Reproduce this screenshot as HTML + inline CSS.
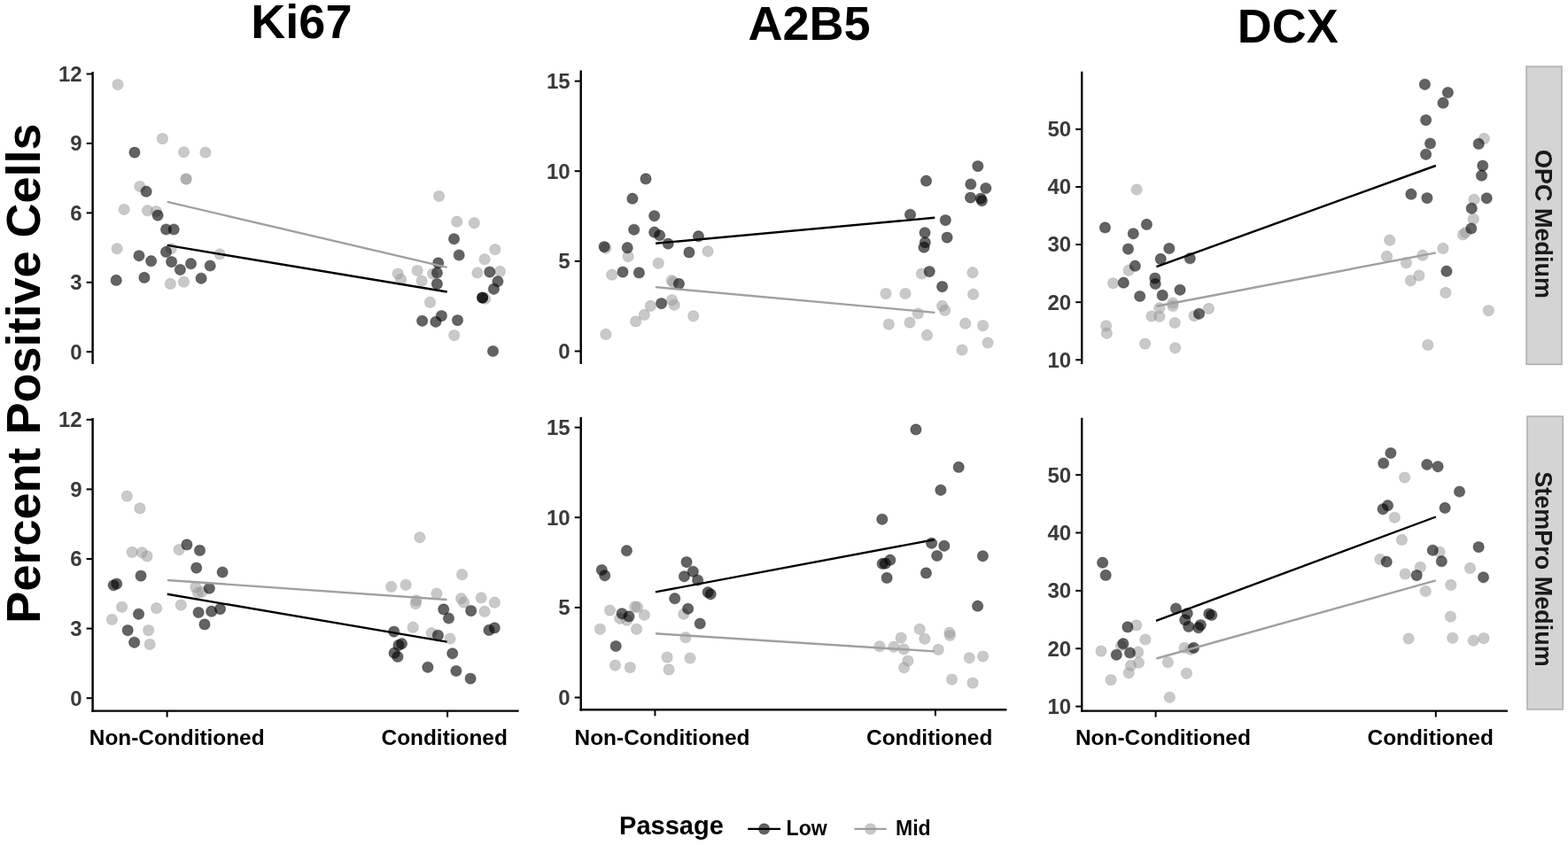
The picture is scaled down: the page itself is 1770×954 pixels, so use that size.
<!DOCTYPE html>
<html><head><meta charset="utf-8"><title>Percent Positive Cells</title>
<style>
html,body{margin:0;padding:0;background:#fff;}
body{width:1770px;height:954px;overflow:hidden;}
svg{display:block;filter:blur(0.45px);}
text{font-family:"Liberation Sans",Arial,Helvetica,sans-serif;font-weight:bold;}
.tk{fill:#3a3a3a;font-size:24px;}
.xl{fill:#000;font-size:24.4px;}
.ttl{fill:#000;font-size:54px;}
.st{fill:#1a1a1a;font-size:27px;}
.lg{fill:#000;font-size:23px;}
.dk{fill:#000;fill-opacity:0.61;stroke:#000;stroke-opacity:0.3;stroke-width:1.2;}
.lt{fill:#999;fill-opacity:0.53;stroke:#999;stroke-opacity:0.3;stroke-width:1.2;}
</style></head><body>
<svg width="1770" height="954" viewBox="0 0 1770 954">
<rect width="1770" height="954" fill="#fff"/>
<text class="ttl" x="340.4" y="43.2" text-anchor="middle">Ki67</text>
<text class="ttl" x="913.6" y="45.3" text-anchor="middle">A2B5</text>
<text class="ttl" x="1453.7" y="48.4" text-anchor="middle">DCX</text>
<text class="ttl" transform="translate(44.5,421.5) rotate(-90)" text-anchor="middle" style="font-size:54px">Percent Positive Cells</text>
<g>
<circle class="lt" cx="133" cy="95.5" r="6.1"/>
<circle class="lt" cx="183.4" cy="156.6" r="6.1"/>
<circle class="lt" cx="207.5" cy="171.8" r="6.1"/>
<circle class="lt" cx="231.9" cy="172.1" r="6.1"/>
<circle class="lt" cx="210.1" cy="202.1" r="6.1"/>
<circle class="lt" cx="210.1" cy="202.1" r="6.1"/>
<circle class="lt" cx="157.9" cy="210.5" r="6.1"/>
<circle class="lt" cx="140.1" cy="236.5" r="6.1"/>
<circle class="lt" cx="166.5" cy="237.7" r="6.1"/>
<circle class="lt" cx="176.3" cy="238.6" r="6.1"/>
<circle class="lt" cx="132.1" cy="280.8" r="6.1"/>
<circle class="lt" cx="193.2" cy="280.8" r="6.1"/>
<circle class="lt" cx="248.1" cy="287" r="6.1"/>
<circle class="lt" cx="192.3" cy="320.4" r="6.1"/>
<circle class="lt" cx="207.5" cy="318.2" r="6.1"/>
<circle class="lt" cx="495.6" cy="221.5" r="6.1"/>
<circle class="lt" cx="515.7" cy="250.2" r="6.1"/>
<circle class="lt" cx="535.3" cy="251.8" r="6.1"/>
<circle class="lt" cx="558.8" cy="281.6" r="6.1"/>
<circle class="lt" cx="547.1" cy="292.8" r="6.1"/>
<circle class="lt" cx="449.1" cy="309.1" r="6.1"/>
<circle class="lt" cx="452.6" cy="315.3" r="6.1"/>
<circle class="lt" cx="471.1" cy="305.5" r="6.1"/>
<circle class="lt" cx="488.6" cy="309.1" r="6.1"/>
<circle class="lt" cx="476.1" cy="317.1" r="6.1"/>
<circle class="lt" cx="538.9" cy="308" r="6.1"/>
<circle class="lt" cx="564.4" cy="306.4" r="6.1"/>
<circle class="lt" cx="547.6" cy="337.2" r="6.1"/>
<circle class="lt" cx="485.5" cy="341.2" r="6.1"/>
<circle class="lt" cx="512.7" cy="378.6" r="6.1"/>
<circle class="dk" cx="151.9" cy="172.1" r="6.1"/>
<circle class="dk" cx="165.1" cy="216.2" r="6.1"/>
<circle class="dk" cx="178.1" cy="243.1" r="6.1"/>
<circle class="dk" cx="187.5" cy="259" r="6.1"/>
<circle class="dk" cx="196.2" cy="259" r="6.1"/>
<circle class="dk" cx="187.5" cy="284.4" r="6.1"/>
<circle class="dk" cx="157" cy="288.8" r="6.1"/>
<circle class="dk" cx="170.6" cy="294.7" r="6.1"/>
<circle class="dk" cx="193.6" cy="295.6" r="6.1"/>
<circle class="dk" cx="215.5" cy="297.7" r="6.1"/>
<circle class="dk" cx="203.4" cy="304.5" r="6.1"/>
<circle class="dk" cx="237.2" cy="300" r="6.1"/>
<circle class="dk" cx="131.2" cy="316.4" r="6.1"/>
<circle class="dk" cx="162.9" cy="313.4" r="6.1"/>
<circle class="dk" cx="227.1" cy="314.3" r="6.1"/>
<circle class="dk" cx="512.5" cy="269.8" r="6.1"/>
<circle class="dk" cx="518.2" cy="288" r="6.1"/>
<circle class="dk" cx="494.7" cy="296.9" r="6.1"/>
<circle class="dk" cx="493.4" cy="308" r="6.1"/>
<circle class="dk" cx="493.4" cy="320.6" r="6.1"/>
<circle class="dk" cx="552.8" cy="307.1" r="6.1"/>
<circle class="dk" cx="561.9" cy="317.8" r="6.1"/>
<circle class="dk" cx="557.4" cy="326.3" r="6.1"/>
<circle class="dk" cx="544.6" cy="336.1" r="6.1"/>
<circle class="dk" cx="544.6" cy="336.1" r="6.1"/>
<circle class="dk" cx="476.6" cy="362.3" r="6.1"/>
<circle class="dk" cx="491.9" cy="363.3" r="6.1"/>
<circle class="dk" cx="498.4" cy="356.6" r="6.1"/>
<circle class="dk" cx="516.5" cy="361.6" r="6.1"/>
<circle class="dk" cx="556.5" cy="396.5" r="6.1"/>
<line x1="188.8" y1="227.9" x2="504.7" y2="301.9" stroke="#a0a0a0" stroke-width="2.4"/>
<line x1="188.8" y1="276.9" x2="504.7" y2="329.5" stroke="#000" stroke-width="2.4"/>
<line x1="104.6" y1="81" x2="104.6" y2="411" stroke="#000" stroke-width="2.4"/>
<line x1="97.6" y1="397.2" x2="104.6" y2="397.2" stroke="#000" stroke-width="2.0"/>
<text class="tk" x="92.6" y="405.5" text-anchor="end">0</text>
<line x1="97.6" y1="318.8" x2="104.6" y2="318.8" stroke="#000" stroke-width="2.0"/>
<text class="tk" x="92.6" y="327.1" text-anchor="end">3</text>
<line x1="97.6" y1="240.4" x2="104.6" y2="240.4" stroke="#000" stroke-width="2.0"/>
<text class="tk" x="92.6" y="248.7" text-anchor="end">6</text>
<line x1="97.6" y1="161.9" x2="104.6" y2="161.9" stroke="#000" stroke-width="2.0"/>
<text class="tk" x="92.6" y="170.2" text-anchor="end">9</text>
<line x1="97.6" y1="83.5" x2="104.6" y2="83.5" stroke="#000" stroke-width="2.0"/>
<text class="tk" x="92.6" y="91.8" text-anchor="end">12</text>
</g>
<g>
<circle class="lt" cx="143.3" cy="560.1" r="6.1"/>
<circle class="lt" cx="157.9" cy="573.9" r="6.1"/>
<circle class="lt" cx="149.2" cy="623.4" r="6.1"/>
<circle class="lt" cx="160.2" cy="623.8" r="6.1"/>
<circle class="lt" cx="166" cy="627.9" r="6.1"/>
<circle class="lt" cx="202.1" cy="620.6" r="6.1"/>
<circle class="lt" cx="220.8" cy="663" r="6.1"/>
<circle class="lt" cx="223.5" cy="669.2" r="6.1"/>
<circle class="lt" cx="228" cy="668.3" r="6.1"/>
<circle class="lt" cx="137.6" cy="685.3" r="6.1"/>
<circle class="lt" cx="176.6" cy="686.7" r="6.1"/>
<circle class="lt" cx="204.3" cy="683.1" r="6.1"/>
<circle class="lt" cx="126.4" cy="699.5" r="6.1"/>
<circle class="lt" cx="167.6" cy="711.6" r="6.1"/>
<circle class="lt" cx="169.1" cy="727.5" r="6.1"/>
<circle class="lt" cx="473.9" cy="606.8" r="6.1"/>
<circle class="lt" cx="521.6" cy="648.7" r="6.1"/>
<circle class="lt" cx="441.6" cy="662.4" r="6.1"/>
<circle class="lt" cx="458.1" cy="660.3" r="6.1"/>
<circle class="lt" cx="492.9" cy="670.1" r="6.1"/>
<circle class="lt" cx="469.9" cy="677.9" r="6.1"/>
<circle class="lt" cx="469.2" cy="681.6" r="6.1"/>
<circle class="lt" cx="520.6" cy="675.8" r="6.1"/>
<circle class="lt" cx="523.7" cy="680.2" r="6.1"/>
<circle class="lt" cx="543.2" cy="674.9" r="6.1"/>
<circle class="lt" cx="558.3" cy="680.2" r="6.1"/>
<circle class="lt" cx="547" cy="690.4" r="6.1"/>
<circle class="lt" cx="466.1" cy="708.2" r="6.1"/>
<circle class="lt" cx="487.1" cy="714.7" r="6.1"/>
<circle class="lt" cx="508" cy="721" r="6.1"/>
<circle class="dk" cx="210.9" cy="614.9" r="6.1"/>
<circle class="dk" cx="225.5" cy="621.4" r="6.1"/>
<circle class="dk" cx="221.7" cy="641.1" r="6.1"/>
<circle class="dk" cx="251.1" cy="646" r="6.1"/>
<circle class="dk" cx="159" cy="650.1" r="6.1"/>
<circle class="dk" cx="128.2" cy="660.8" r="6.1"/>
<circle class="dk" cx="131.7" cy="659.1" r="6.1"/>
<circle class="dk" cx="236.3" cy="664.2" r="6.1"/>
<circle class="dk" cx="156.5" cy="693.3" r="6.1"/>
<circle class="dk" cx="224.1" cy="691.5" r="6.1"/>
<circle class="dk" cx="238.7" cy="690.2" r="6.1"/>
<circle class="dk" cx="248.5" cy="687.6" r="6.1"/>
<circle class="dk" cx="231" cy="704.9" r="6.1"/>
<circle class="dk" cx="144.2" cy="711.6" r="6.1"/>
<circle class="dk" cx="151.6" cy="725.3" r="6.1"/>
<circle class="dk" cx="500.7" cy="687.9" r="6.1"/>
<circle class="dk" cx="506.5" cy="698" r="6.1"/>
<circle class="dk" cx="531.7" cy="689.6" r="6.1"/>
<circle class="dk" cx="444.7" cy="713.1" r="6.1"/>
<circle class="dk" cx="494.4" cy="717.3" r="6.1"/>
<circle class="dk" cx="552" cy="711.4" r="6.1"/>
<circle class="dk" cx="558.3" cy="708.9" r="6.1"/>
<circle class="dk" cx="453.5" cy="726.7" r="6.1"/>
<circle class="dk" cx="450" cy="728.4" r="6.1"/>
<circle class="dk" cx="445.1" cy="737.2" r="6.1"/>
<circle class="dk" cx="448.9" cy="741.4" r="6.1"/>
<circle class="dk" cx="510.7" cy="737.8" r="6.1"/>
<circle class="dk" cx="482.9" cy="753.3" r="6.1"/>
<circle class="dk" cx="514.9" cy="757.5" r="6.1"/>
<circle class="dk" cx="531.1" cy="766.1" r="6.1"/>
<line x1="188.8" y1="655" x2="504.5" y2="677" stroke="#a0a0a0" stroke-width="2.4"/>
<line x1="188.8" y1="670.8" x2="504.5" y2="724.6" stroke="#000" stroke-width="2.4"/>
<line x1="104.6" y1="472" x2="104.6" y2="803.8" stroke="#000" stroke-width="2.4"/>
<line x1="103.4" y1="802.6" x2="585.6" y2="802.6" stroke="#000" stroke-width="2.4"/>
<line x1="188.6" y1="802.6" x2="188.6" y2="809.6" stroke="#000" stroke-width="2.0"/>
<text class="xl" x="199.7" y="841" text-anchor="middle">Non-Conditioned</text>
<line x1="505.1" y1="802.6" x2="505.1" y2="809.6" stroke="#000" stroke-width="2.0"/>
<text class="xl" x="501.7" y="841" text-anchor="middle">Conditioned</text>
<line x1="97.6" y1="788.2" x2="104.6" y2="788.2" stroke="#000" stroke-width="2.0"/>
<text class="tk" x="92.6" y="796.5" text-anchor="end">0</text>
<line x1="97.6" y1="709.6" x2="104.6" y2="709.6" stroke="#000" stroke-width="2.0"/>
<text class="tk" x="92.6" y="717.9" text-anchor="end">3</text>
<line x1="97.6" y1="631" x2="104.6" y2="631" stroke="#000" stroke-width="2.0"/>
<text class="tk" x="92.6" y="639.3" text-anchor="end">6</text>
<line x1="97.6" y1="552.4" x2="104.6" y2="552.4" stroke="#000" stroke-width="2.0"/>
<text class="tk" x="92.6" y="560.7" text-anchor="end">9</text>
<line x1="97.6" y1="473.8" x2="104.6" y2="473.8" stroke="#000" stroke-width="2.0"/>
<text class="tk" x="92.6" y="482.1" text-anchor="end">12</text>
</g>
<g>
<circle class="lt" cx="683.7" cy="280.3" r="6.1"/>
<circle class="lt" cx="799" cy="283.8" r="6.1"/>
<circle class="lt" cx="709.1" cy="289.5" r="6.1"/>
<circle class="lt" cx="743.2" cy="297.3" r="6.1"/>
<circle class="lt" cx="690.7" cy="310.2" r="6.1"/>
<circle class="lt" cx="758.2" cy="316.7" r="6.1"/>
<circle class="lt" cx="760.2" cy="318.6" r="6.1"/>
<circle class="lt" cx="734.3" cy="345.4" r="6.1"/>
<circle class="lt" cx="758.5" cy="338.8" r="6.1"/>
<circle class="lt" cx="761.2" cy="344.3" r="6.1"/>
<circle class="lt" cx="727.3" cy="355.4" r="6.1"/>
<circle class="lt" cx="717.6" cy="362.9" r="6.1"/>
<circle class="lt" cx="782.7" cy="356.8" r="6.1"/>
<circle class="lt" cx="683.9" cy="377.4" r="6.1"/>
<circle class="lt" cx="1040.4" cy="309" r="6.1"/>
<circle class="lt" cx="1097.9" cy="307.7" r="6.1"/>
<circle class="lt" cx="999.9" cy="331.5" r="6.1"/>
<circle class="lt" cx="1022" cy="331.5" r="6.1"/>
<circle class="lt" cx="1098.6" cy="332.2" r="6.1"/>
<circle class="lt" cx="1063.6" cy="345.4" r="6.1"/>
<circle class="lt" cx="1066.6" cy="350.4" r="6.1"/>
<circle class="lt" cx="1036.3" cy="354" r="6.1"/>
<circle class="lt" cx="1003.3" cy="366.1" r="6.1"/>
<circle class="lt" cx="1027" cy="364.1" r="6.1"/>
<circle class="lt" cx="1089.7" cy="365.2" r="6.1"/>
<circle class="lt" cx="1109.6" cy="367.6" r="6.1"/>
<circle class="lt" cx="1046.5" cy="378.4" r="6.1"/>
<circle class="lt" cx="1115.1" cy="387" r="6.1"/>
<circle class="lt" cx="1086" cy="395.1" r="6.1"/>
<circle class="dk" cx="729" cy="201.9" r="6.1"/>
<circle class="dk" cx="713.9" cy="224.2" r="6.1"/>
<circle class="dk" cx="738.6" cy="243.8" r="6.1"/>
<circle class="dk" cx="715.7" cy="259.3" r="6.1"/>
<circle class="dk" cx="738.7" cy="262.2" r="6.1"/>
<circle class="dk" cx="744.6" cy="265.7" r="6.1"/>
<circle class="dk" cx="754.2" cy="275.1" r="6.1"/>
<circle class="dk" cx="788.4" cy="266.7" r="6.1"/>
<circle class="dk" cx="682.1" cy="278.6" r="6.1"/>
<circle class="dk" cx="708.2" cy="279.7" r="6.1"/>
<circle class="dk" cx="777.9" cy="284.9" r="6.1"/>
<circle class="dk" cx="703" cy="307.1" r="6.1"/>
<circle class="dk" cx="721.4" cy="307.9" r="6.1"/>
<circle class="dk" cx="766.4" cy="320.4" r="6.1"/>
<circle class="dk" cx="746.6" cy="342.6" r="6.1"/>
<circle class="dk" cx="1103.8" cy="187.6" r="6.1"/>
<circle class="dk" cx="1045.5" cy="204.2" r="6.1"/>
<circle class="dk" cx="1095.8" cy="208" r="6.1"/>
<circle class="dk" cx="1112.8" cy="212.5" r="6.1"/>
<circle class="dk" cx="1095.5" cy="223.1" r="6.1"/>
<circle class="dk" cx="1107.2" cy="224.1" r="6.1"/>
<circle class="dk" cx="1108.4" cy="226.6" r="6.1"/>
<circle class="dk" cx="1027.5" cy="242.3" r="6.1"/>
<circle class="dk" cx="1067.3" cy="248.6" r="6.1"/>
<circle class="dk" cx="1044" cy="262.8" r="6.1"/>
<circle class="dk" cx="1044.3" cy="273.8" r="6.1"/>
<circle class="dk" cx="1043" cy="279.2" r="6.1"/>
<circle class="dk" cx="1069.1" cy="268.1" r="6.1"/>
<circle class="dk" cx="1049.2" cy="306.6" r="6.1"/>
<circle class="dk" cx="1063.6" cy="323.6" r="6.1"/>
<line x1="739.9" y1="324.1" x2="1055.4" y2="352.9" stroke="#a0a0a0" stroke-width="2.4"/>
<line x1="740.1" y1="274.8" x2="1055.2" y2="245.8" stroke="#000" stroke-width="2.4"/>
<line x1="655.7" y1="79.6" x2="655.7" y2="411" stroke="#000" stroke-width="2.4"/>
<line x1="648.7" y1="396.5" x2="655.7" y2="396.5" stroke="#000" stroke-width="2.0"/>
<text class="tk" x="643.7" y="404.8" text-anchor="end">0</text>
<line x1="648.7" y1="294.9" x2="655.7" y2="294.9" stroke="#000" stroke-width="2.0"/>
<text class="tk" x="643.7" y="303.2" text-anchor="end">5</text>
<line x1="648.7" y1="193.2" x2="655.7" y2="193.2" stroke="#000" stroke-width="2.0"/>
<text class="tk" x="643.7" y="201.5" text-anchor="end">10</text>
<line x1="648.7" y1="91.6" x2="655.7" y2="91.6" stroke="#000" stroke-width="2.0"/>
<text class="tk" x="643.7" y="99.9" text-anchor="end">15</text>
</g>
<g>
<circle class="lt" cx="771.8" cy="693.3" r="6.1"/>
<circle class="lt" cx="688.5" cy="689.1" r="6.1"/>
<circle class="lt" cx="716.8" cy="684.9" r="6.1"/>
<circle class="lt" cx="719.4" cy="685.4" r="6.1"/>
<circle class="lt" cx="727.3" cy="694.3" r="6.1"/>
<circle class="lt" cx="699.8" cy="698.3" r="6.1"/>
<circle class="lt" cx="707.6" cy="700.2" r="6.1"/>
<circle class="lt" cx="677.4" cy="710.3" r="6.1"/>
<circle class="lt" cx="718.5" cy="710.3" r="6.1"/>
<circle class="lt" cx="773.9" cy="719.7" r="6.1"/>
<circle class="lt" cx="753.1" cy="742.1" r="6.1"/>
<circle class="lt" cx="779" cy="743" r="6.1"/>
<circle class="lt" cx="694.4" cy="751.1" r="6.1"/>
<circle class="lt" cx="711.3" cy="753.6" r="6.1"/>
<circle class="lt" cx="755" cy="755.9" r="6.1"/>
<circle class="lt" cx="1038.1" cy="710.3" r="6.1"/>
<circle class="lt" cx="1043.8" cy="721.3" r="6.1"/>
<circle class="lt" cx="1017.1" cy="720.1" r="6.1"/>
<circle class="lt" cx="1071.9" cy="714.2" r="6.1"/>
<circle class="lt" cx="1072.4" cy="717.5" r="6.1"/>
<circle class="lt" cx="992.9" cy="729.8" r="6.1"/>
<circle class="lt" cx="1009" cy="730.2" r="6.1"/>
<circle class="lt" cx="1020.3" cy="733" r="6.1"/>
<circle class="lt" cx="1059.2" cy="733.4" r="6.1"/>
<circle class="lt" cx="1024.9" cy="746.1" r="6.1"/>
<circle class="lt" cx="1020.5" cy="753.8" r="6.1"/>
<circle class="lt" cx="1094.3" cy="742.8" r="6.1"/>
<circle class="lt" cx="1109.6" cy="741.1" r="6.1"/>
<circle class="lt" cx="1074.5" cy="767.1" r="6.1"/>
<circle class="lt" cx="1098" cy="771.1" r="6.1"/>
<circle class="dk" cx="707.4" cy="621.7" r="6.1"/>
<circle class="dk" cx="679.3" cy="643.5" r="6.1"/>
<circle class="dk" cx="682.7" cy="649.8" r="6.1"/>
<circle class="dk" cx="775" cy="634.6" r="6.1"/>
<circle class="dk" cx="782.3" cy="645.3" r="6.1"/>
<circle class="dk" cx="772.4" cy="650.8" r="6.1"/>
<circle class="dk" cx="787.6" cy="655" r="6.1"/>
<circle class="dk" cx="799.1" cy="668.7" r="6.1"/>
<circle class="dk" cx="802.2" cy="670.8" r="6.1"/>
<circle class="dk" cx="761.7" cy="675.7" r="6.1"/>
<circle class="dk" cx="776.6" cy="687.3" r="6.1"/>
<circle class="dk" cx="702.1" cy="692.8" r="6.1"/>
<circle class="dk" cx="710" cy="695.9" r="6.1"/>
<circle class="dk" cx="790.2" cy="704" r="6.1"/>
<circle class="dk" cx="695.2" cy="729.5" r="6.1"/>
<circle class="dk" cx="1033.9" cy="484.9" r="6.1"/>
<circle class="dk" cx="1082.2" cy="527.4" r="6.1"/>
<circle class="dk" cx="1061.9" cy="553.3" r="6.1"/>
<circle class="dk" cx="995.8" cy="586.3" r="6.1"/>
<circle class="dk" cx="1051.6" cy="613.3" r="6.1"/>
<circle class="dk" cx="1065.8" cy="616.3" r="6.1"/>
<circle class="dk" cx="1057.7" cy="627.5" r="6.1"/>
<circle class="dk" cx="1109.4" cy="627.8" r="6.1"/>
<circle class="dk" cx="1004.8" cy="632.2" r="6.1"/>
<circle class="dk" cx="996.2" cy="636.4" r="6.1"/>
<circle class="dk" cx="999.3" cy="636.2" r="6.1"/>
<circle class="dk" cx="1001.1" cy="652.4" r="6.1"/>
<circle class="dk" cx="1045.4" cy="646.9" r="6.1"/>
<circle class="dk" cx="1103.6" cy="684.2" r="6.1"/>
<line x1="740" y1="715.3" x2="1054.8" y2="735.4" stroke="#a0a0a0" stroke-width="2.4"/>
<line x1="739.9" y1="668.4" x2="1054.8" y2="609.2" stroke="#000" stroke-width="2.4"/>
<line x1="655.7" y1="471" x2="655.7" y2="802.5" stroke="#000" stroke-width="2.4"/>
<line x1="654.5" y1="801.3" x2="1136.4" y2="801.3" stroke="#000" stroke-width="2.4"/>
<line x1="739.4" y1="801.3" x2="739.4" y2="808.3" stroke="#000" stroke-width="2.0"/>
<text class="xl" x="747.5" y="841" text-anchor="middle">Non-Conditioned</text>
<line x1="1055.9" y1="801.3" x2="1055.9" y2="808.3" stroke="#000" stroke-width="2.0"/>
<text class="xl" x="1049.2" y="841" text-anchor="middle">Conditioned</text>
<line x1="648.7" y1="787.5" x2="655.7" y2="787.5" stroke="#000" stroke-width="2.0"/>
<text class="tk" x="643.7" y="795.8" text-anchor="end">0</text>
<line x1="648.7" y1="685.9" x2="655.7" y2="685.9" stroke="#000" stroke-width="2.0"/>
<text class="tk" x="643.7" y="694.1" text-anchor="end">5</text>
<line x1="648.7" y1="584.2" x2="655.7" y2="584.2" stroke="#000" stroke-width="2.0"/>
<text class="tk" x="643.7" y="592.5" text-anchor="end">10</text>
<line x1="648.7" y1="482.6" x2="655.7" y2="482.6" stroke="#000" stroke-width="2.0"/>
<text class="tk" x="643.7" y="490.9" text-anchor="end">15</text>
</g>
<g>
<rect x="1723" y="75.1" width="40" height="336.3" fill="#d4d4d4" stroke="#a8a8a8" stroke-width="1.4"/>
<text class="st" transform="translate(1733.3,252.9) rotate(90)" text-anchor="middle">OPC Medium</text>
<circle class="lt" cx="1283.1" cy="214" r="6.1"/>
<circle class="lt" cx="1274.2" cy="305.2" r="6.1"/>
<circle class="lt" cx="1256.5" cy="319.8" r="6.1"/>
<circle class="lt" cx="1323.9" cy="342" r="6.1"/>
<circle class="lt" cx="1323.9" cy="345.4" r="6.1"/>
<circle class="lt" cx="1308.8" cy="347.7" r="6.1"/>
<circle class="lt" cx="1299.9" cy="357" r="6.1"/>
<circle class="lt" cx="1308.8" cy="357.3" r="6.1"/>
<circle class="lt" cx="1326.2" cy="364.5" r="6.1"/>
<circle class="lt" cx="1348" cy="356.6" r="6.1"/>
<circle class="lt" cx="1364.4" cy="348.4" r="6.1"/>
<circle class="lt" cx="1248.6" cy="367.9" r="6.1"/>
<circle class="lt" cx="1249.3" cy="376.3" r="6.1"/>
<circle class="lt" cx="1292.6" cy="388.1" r="6.1"/>
<circle class="lt" cx="1326.6" cy="392.8" r="6.1"/>
<circle class="lt" cx="1675.3" cy="156.4" r="6.1"/>
<circle class="lt" cx="1664" cy="225.3" r="6.1"/>
<circle class="lt" cx="1663.3" cy="247.3" r="6.1"/>
<circle class="lt" cx="1651.4" cy="264.9" r="6.1"/>
<circle class="lt" cx="1654.5" cy="262.4" r="6.1"/>
<circle class="lt" cx="1568.7" cy="271.2" r="6.1"/>
<circle class="lt" cx="1628.9" cy="280.4" r="6.1"/>
<circle class="lt" cx="1565.5" cy="289.4" r="6.1"/>
<circle class="lt" cx="1605.9" cy="288.2" r="6.1"/>
<circle class="lt" cx="1587.4" cy="296.7" r="6.1"/>
<circle class="lt" cx="1601.9" cy="311.1" r="6.1"/>
<circle class="lt" cx="1592.4" cy="316.8" r="6.1"/>
<circle class="lt" cx="1631.9" cy="330.4" r="6.1"/>
<circle class="lt" cx="1680.3" cy="350.6" r="6.1"/>
<circle class="lt" cx="1611.8" cy="389.4" r="6.1"/>
<circle class="dk" cx="1247.4" cy="256.9" r="6.1"/>
<circle class="dk" cx="1294.4" cy="253.4" r="6.1"/>
<circle class="dk" cx="1279.3" cy="263.8" r="6.1"/>
<circle class="dk" cx="1273.5" cy="281.1" r="6.1"/>
<circle class="dk" cx="1319.8" cy="280.5" r="6.1"/>
<circle class="dk" cx="1310.2" cy="292.4" r="6.1"/>
<circle class="dk" cx="1343.3" cy="291.7" r="6.1"/>
<circle class="dk" cx="1281.3" cy="300.2" r="6.1"/>
<circle class="dk" cx="1268.3" cy="319.2" r="6.1"/>
<circle class="dk" cx="1303.8" cy="314.1" r="6.1"/>
<circle class="dk" cx="1304.2" cy="320.5" r="6.1"/>
<circle class="dk" cx="1332" cy="327.3" r="6.1"/>
<circle class="dk" cx="1286.7" cy="334.5" r="6.1"/>
<circle class="dk" cx="1312.2" cy="333.4" r="6.1"/>
<circle class="dk" cx="1353.5" cy="354.3" r="6.1"/>
<circle class="dk" cx="1608.4" cy="95.3" r="6.1"/>
<circle class="dk" cx="1634.4" cy="104.5" r="6.1"/>
<circle class="dk" cx="1629" cy="116.2" r="6.1"/>
<circle class="dk" cx="1609.6" cy="135.6" r="6.1"/>
<circle class="dk" cx="1614.5" cy="162" r="6.1"/>
<circle class="dk" cx="1609.6" cy="174.3" r="6.1"/>
<circle class="dk" cx="1669.2" cy="162.4" r="6.1"/>
<circle class="dk" cx="1673.7" cy="187.1" r="6.1"/>
<circle class="dk" cx="1672.5" cy="198.2" r="6.1"/>
<circle class="dk" cx="1592.9" cy="219.2" r="6.1"/>
<circle class="dk" cx="1610.9" cy="223.6" r="6.1"/>
<circle class="dk" cx="1678.2" cy="223.8" r="6.1"/>
<circle class="dk" cx="1661.2" cy="235.3" r="6.1"/>
<circle class="dk" cx="1660.8" cy="258" r="6.1"/>
<circle class="dk" cx="1632.9" cy="306.2" r="6.1"/>
<line x1="1305.4" y1="345.8" x2="1620.8" y2="285.4" stroke="#a0a0a0" stroke-width="2.4"/>
<line x1="1305.4" y1="301.1" x2="1620.8" y2="187" stroke="#000" stroke-width="2.4"/>
<line x1="1221.2" y1="80.7" x2="1221.2" y2="411" stroke="#000" stroke-width="2.4"/>
<line x1="1214.2" y1="406.3" x2="1221.2" y2="406.3" stroke="#000" stroke-width="2.0"/>
<text class="tk" x="1209.2" y="414.6" text-anchor="end">10</text>
<line x1="1214.2" y1="341.2" x2="1221.2" y2="341.2" stroke="#000" stroke-width="2.0"/>
<text class="tk" x="1209.2" y="349.5" text-anchor="end">20</text>
<line x1="1214.2" y1="276.1" x2="1221.2" y2="276.1" stroke="#000" stroke-width="2.0"/>
<text class="tk" x="1209.2" y="284.4" text-anchor="end">30</text>
<line x1="1214.2" y1="211" x2="1221.2" y2="211" stroke="#000" stroke-width="2.0"/>
<text class="tk" x="1209.2" y="219.3" text-anchor="end">40</text>
<line x1="1214.2" y1="145.9" x2="1221.2" y2="145.9" stroke="#000" stroke-width="2.0"/>
<text class="tk" x="1209.2" y="154.2" text-anchor="end">50</text>
</g>
<g>
<rect x="1724" y="470" width="40.2" height="331" fill="#d4d4d4" stroke="#a8a8a8" stroke-width="1.4"/>
<text class="st" transform="translate(1733.3,642.5) rotate(90)" text-anchor="middle">StemPro Medium</text>
<circle class="lt" cx="1282.7" cy="705.9" r="6.1"/>
<circle class="lt" cx="1292.9" cy="722" r="6.1"/>
<circle class="lt" cx="1265.5" cy="728.8" r="6.1"/>
<circle class="lt" cx="1243" cy="735.1" r="6.1"/>
<circle class="lt" cx="1284.7" cy="736.2" r="6.1"/>
<circle class="lt" cx="1285.4" cy="748.2" r="6.1"/>
<circle class="lt" cx="1276.5" cy="751.4" r="6.1"/>
<circle class="lt" cx="1274.2" cy="759.8" r="6.1"/>
<circle class="lt" cx="1254" cy="767.6" r="6.1"/>
<circle class="lt" cx="1318.4" cy="747.7" r="6.1"/>
<circle class="lt" cx="1337" cy="731.4" r="6.1"/>
<circle class="lt" cx="1344.1" cy="733.3" r="6.1"/>
<circle class="lt" cx="1339.4" cy="760.3" r="6.1"/>
<circle class="lt" cx="1320.3" cy="787.3" r="6.1"/>
<circle class="lt" cx="1585.6" cy="539.1" r="6.1"/>
<circle class="lt" cx="1574.3" cy="584.3" r="6.1"/>
<circle class="lt" cx="1582.4" cy="609.4" r="6.1"/>
<circle class="lt" cx="1625.1" cy="623.2" r="6.1"/>
<circle class="lt" cx="1557.9" cy="631.5" r="6.1"/>
<circle class="lt" cx="1603.3" cy="640.3" r="6.1"/>
<circle class="lt" cx="1659.5" cy="641.4" r="6.1"/>
<circle class="lt" cx="1586.2" cy="648" r="6.1"/>
<circle class="lt" cx="1637.8" cy="660.4" r="6.1"/>
<circle class="lt" cx="1609.2" cy="667.5" r="6.1"/>
<circle class="lt" cx="1637.4" cy="696.1" r="6.1"/>
<circle class="lt" cx="1590.1" cy="721" r="6.1"/>
<circle class="lt" cx="1639.7" cy="720.3" r="6.1"/>
<circle class="lt" cx="1663.2" cy="723.2" r="6.1"/>
<circle class="lt" cx="1674.9" cy="720.6" r="6.1"/>
<circle class="dk" cx="1244.6" cy="635.2" r="6.1"/>
<circle class="dk" cx="1248.2" cy="649.4" r="6.1"/>
<circle class="dk" cx="1327.4" cy="687" r="6.1"/>
<circle class="dk" cx="1340.2" cy="692.6" r="6.1"/>
<circle class="dk" cx="1337.7" cy="699.9" r="6.1"/>
<circle class="dk" cx="1341.7" cy="707.5" r="6.1"/>
<circle class="dk" cx="1364.8" cy="693" r="6.1"/>
<circle class="dk" cx="1367.7" cy="694.5" r="6.1"/>
<circle class="dk" cx="1355.3" cy="705.6" r="6.1"/>
<circle class="dk" cx="1352.8" cy="708.7" r="6.1"/>
<circle class="dk" cx="1272.9" cy="707.9" r="6.1"/>
<circle class="dk" cx="1267.9" cy="726.7" r="6.1"/>
<circle class="dk" cx="1260.3" cy="739.3" r="6.1"/>
<circle class="dk" cx="1275.5" cy="737" r="6.1"/>
<circle class="dk" cx="1347.5" cy="731.4" r="6.1"/>
<circle class="dk" cx="1569.9" cy="511.5" r="6.1"/>
<circle class="dk" cx="1561.7" cy="523" r="6.1"/>
<circle class="dk" cx="1610.8" cy="524.5" r="6.1"/>
<circle class="dk" cx="1623.1" cy="526.8" r="6.1"/>
<circle class="dk" cx="1647.5" cy="555" r="6.1"/>
<circle class="dk" cx="1566.5" cy="570.7" r="6.1"/>
<circle class="dk" cx="1561.1" cy="574.8" r="6.1"/>
<circle class="dk" cx="1631.1" cy="573.4" r="6.1"/>
<circle class="dk" cx="1617.3" cy="621.3" r="6.1"/>
<circle class="dk" cx="1669.1" cy="617.6" r="6.1"/>
<circle class="dk" cx="1565.2" cy="634.2" r="6.1"/>
<circle class="dk" cx="1627.3" cy="633.7" r="6.1"/>
<circle class="dk" cx="1599.2" cy="649.6" r="6.1"/>
<circle class="dk" cx="1674.5" cy="651.8" r="6.1"/>
<line x1="1305.3" y1="743.5" x2="1620.7" y2="655.3" stroke="#a0a0a0" stroke-width="2.4"/>
<line x1="1305" y1="700.8" x2="1620.9" y2="583.5" stroke="#000" stroke-width="2.4"/>
<line x1="1221.2" y1="471.8" x2="1221.2" y2="803.8" stroke="#000" stroke-width="2.4"/>
<line x1="1220" y1="802.6" x2="1701.9" y2="802.6" stroke="#000" stroke-width="2.4"/>
<line x1="1304.6" y1="802.6" x2="1304.6" y2="809.6" stroke="#000" stroke-width="2.0"/>
<text class="xl" x="1312.9" y="840.5" text-anchor="middle">Non-Conditioned</text>
<line x1="1620.8" y1="802.6" x2="1620.8" y2="809.6" stroke="#000" stroke-width="2.0"/>
<text class="xl" x="1614.7" y="840.5" text-anchor="middle">Conditioned</text>
<line x1="1214.2" y1="797.6" x2="1221.2" y2="797.6" stroke="#000" stroke-width="2.0"/>
<text class="tk" x="1209.2" y="805.9" text-anchor="end">10</text>
<line x1="1214.2" y1="732.2" x2="1221.2" y2="732.2" stroke="#000" stroke-width="2.0"/>
<text class="tk" x="1209.2" y="740.5" text-anchor="end">20</text>
<line x1="1214.2" y1="666.9" x2="1221.2" y2="666.9" stroke="#000" stroke-width="2.0"/>
<text class="tk" x="1209.2" y="675.2" text-anchor="end">30</text>
<line x1="1214.2" y1="601.5" x2="1221.2" y2="601.5" stroke="#000" stroke-width="2.0"/>
<text class="tk" x="1209.2" y="609.8" text-anchor="end">40</text>
<line x1="1214.2" y1="536.2" x2="1221.2" y2="536.2" stroke="#000" stroke-width="2.0"/>
<text class="tk" x="1209.2" y="544.5" text-anchor="end">50</text>
</g>
<text class="lg" x="699.1" y="942.2" style="font-size:29px">Passage</text>
<line x1="844.2" y1="935.9" x2="881" y2="935.9" stroke="#000" stroke-width="2.4"/><circle class="dk" cx="862.6" cy="935.9" r="6.1"/><text class="lg" x="887.6" y="943">Low</text>
<line x1="964.3" y1="935.9" x2="1000.6" y2="935.9" stroke="#a0a0a0" stroke-width="2.4"/><circle class="lt" cx="982.6" cy="935.9" r="6.1"/><text class="lg" x="1011" y="943">Mid</text>
</svg>
</body></html>
